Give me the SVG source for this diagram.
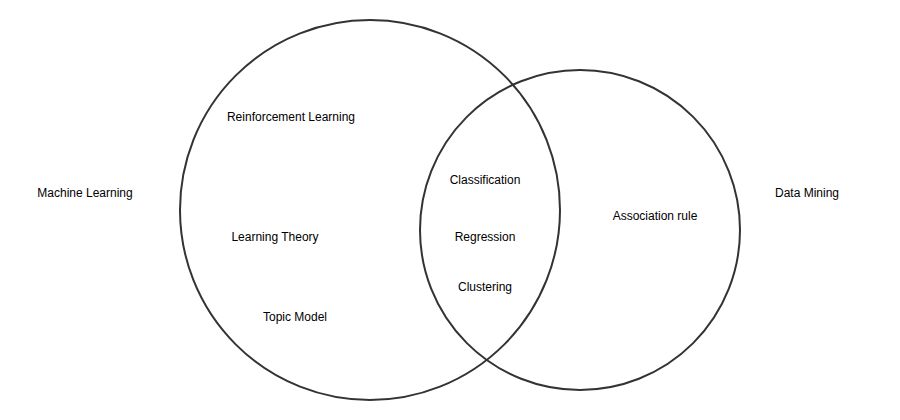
<svg xmlns="http://www.w3.org/2000/svg" width="900" height="420" viewBox="0 0 900 420">
<style>
.c{fill:none;stroke:#333333;stroke-width:2}
text{font-family:"Liberation Sans",Arial,sans-serif;font-size:12px;fill:#000;text-anchor:middle;dominant-baseline:central}
</style>
<rect width="900" height="420" fill="#ffffff"/>
<g id="machine-learning"><circle class="c" cx="370" cy="210" r="190"/></g>
<g id="data-mining"><circle class="c" cx="580" cy="230" r="160"/></g>
<g id="connectors"></g>
<g id="labels">
<text x="85" y="193">Machine Learning</text>
<text x="807" y="193">Data Mining</text>
<text x="291" y="117">Reinforcement Learning</text>
<text x="275" y="237">Learning Theory</text>
<text x="295" y="317">Topic Model</text>
<text x="485" y="180">Classification</text>
<text x="485" y="237">Regression</text>
<text x="485" y="287">Clustering</text>
<text x="655" y="216">Association rule</text>
</g>
</svg>
